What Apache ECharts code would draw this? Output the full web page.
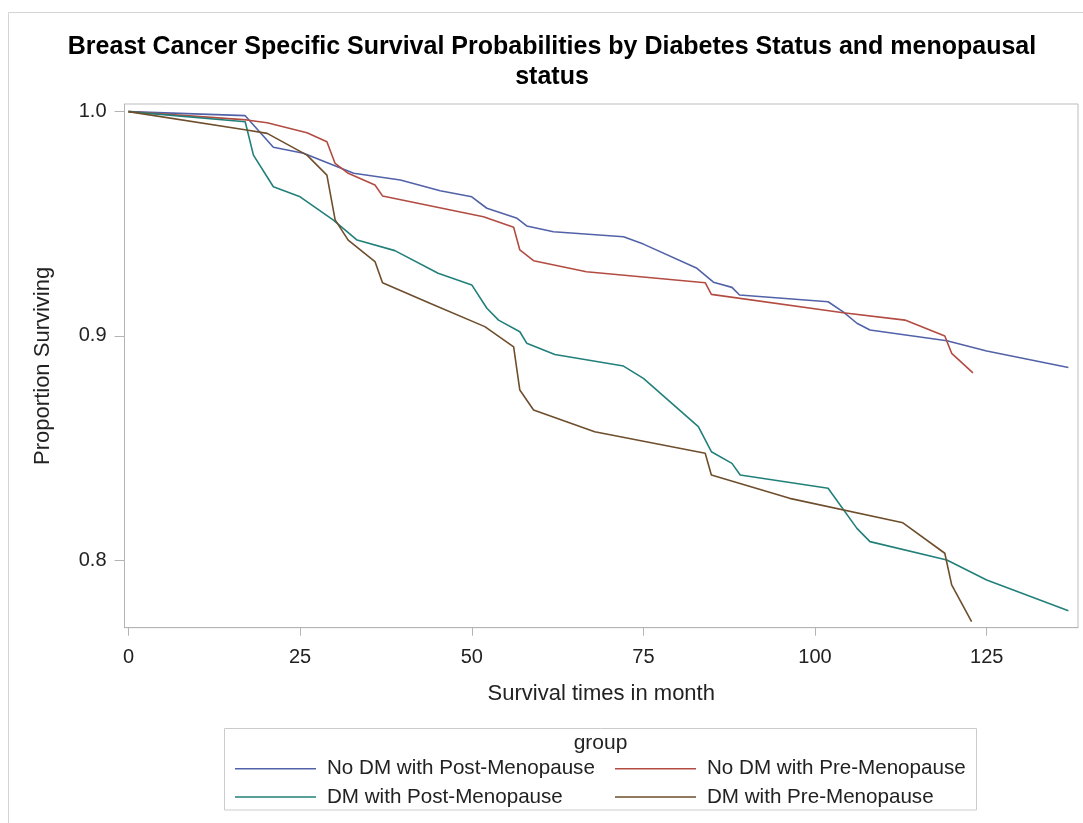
<!DOCTYPE html>
<html>
<head>
<meta charset="utf-8">
<script src="https://cdn.jsdelivr.net/npm/echarts@6/dist/echarts.min.js"></script>
<style>
html,body{margin:0;padding:0;background:#fff;}
#chart{width:1083px;height:823px;}
</style>
</head>
<body>
<div id="chart"></div>
<script>
// ---- data ----
const seriesNames = ['No DM with Post-Menopause','No DM with Pre-Menopause','DM with Post-Menopause','DM with Pre-Menopause'];
const xTicks = [0, 25, 50, 75, 100, 125];
const yTicks = [0.8, 0.9, 1.0];

const timeNoDMPost = [0, 17.0, 21.1, 25.5, 32.8, 39.6, 45.4, 50.0, 52.2, 56.6, 58.0, 61.9, 72.1, 75.0, 82.8, 85.2, 87.9, 89.0, 101.9, 104.1, 106.1, 108.0, 119.2, 125.0, 136.9];
const survNoDMPost = [1.0, 0.9982, 0.9841, 0.9814, 0.9725, 0.9695, 0.9647, 0.9620, 0.9569, 0.9524, 0.9490, 0.9464, 0.9442, 0.9409, 0.9301, 0.9239, 0.9216, 0.9182, 0.9152, 0.9107, 0.9056, 0.9026, 0.8978, 0.8932, 0.8859];

const timeNoDMPre = [0, 17.2, 20.2, 26.0, 28.9, 30.1, 32.0, 35.9, 37.0, 51.7, 56.1, 57.0, 59.0, 66.7, 84.0, 84.9, 104.1, 113.1, 118.9, 119.9, 123.0];
const survNoDMPre = [1.0, 0.9963, 0.9950, 0.9906, 0.9866, 0.9769, 0.9725, 0.9673, 0.9624, 0.9531, 0.9484, 0.9383, 0.9335, 0.9286, 0.9237, 0.9185, 0.9103, 0.9070, 0.8999, 0.8922, 0.8835];

const timeDMPost = [0, 17.0, 18.2, 21.1, 25.0, 29.8, 33.3, 38.8, 45.1, 50.0, 52.2, 53.9, 57.0, 58.0, 62.1, 72.1, 75.0, 83.0, 84.9, 87.9, 89.1, 101.9, 106.1, 108.0, 119.2, 125.0, 136.9];
const survDMPost = [1.0, 0.9955, 0.9806, 0.9665, 0.9620, 0.9517, 0.9427, 0.9380, 0.9279, 0.9227, 0.9123, 0.9070, 0.9018, 0.8967, 0.8917, 0.8865, 0.8810, 0.8595, 0.8483, 0.8431, 0.8379, 0.8320, 0.8141, 0.8082, 0.8000, 0.7911, 0.7774];

const timeDMPre = [0, 17.2, 20.2, 26.0, 28.9, 30.1, 32.0, 35.9, 37.0, 43.9, 51.9, 56.1, 57.0, 59.0, 67.9, 84.0, 84.9, 96.3, 112.8, 118.9, 119.9, 122.8];
const survDMPre = [1.0, 0.9918, 0.9903, 0.9806, 0.9717, 0.9517, 0.9427, 0.9331, 0.9237, 0.9145, 0.9041, 0.8951, 0.8758, 0.8669, 0.8572, 0.8476, 0.8379, 0.8275, 0.8166, 0.8030, 0.7889, 0.7725];

const colors = ['#5262A8', '#B24C42', '#22807A', '#6E4E2C'];

function pairs(t, s){ return t.map((v,i)=>[v, s[i]]); }
const allTimes = [timeNoDMPost, timeNoDMPre, timeDMPost, timeDMPre];
const allSurv = [survNoDMPost, survNoDMPre, survDMPost, survDMPre];

const FONT = 'Liberation Sans, Arial, sans-serif';
const chart = echarts.init(document.getElementById('chart'), null, {renderer:'canvas'});

const legendCommon = {
  orient: 'vertical', top: 758.3, itemWidth: 81, itemHeight: 1.6, itemGap: 7.2, padding: 0,
  icon: 'rect',
  textStyle: {fontFamily: FONT, fontSize: 20.6, lineHeight: 20.5, color: '#222', padding: [0,0,0,6]}
};

const option = {
  animation: false,
  backgroundColor: '#fff',
  color: colors,
  title: {
    text: 'Breast Cancer Specific Survival Probabilities by Diabetes Status and menopausal\nstatus',
    left: 552,
    top: 31.5,
    padding: 0,
    textAlign: 'center',
    textStyle: {fontFamily: FONT, fontSize: 25, fontWeight: 'bold', color: '#000', lineHeight: 30.5}
  },
  grid: {left: 124.5, right: 5, top: 104, bottom: 195.3, show: true, borderColor: '#BDBDBD', borderWidth: 1},
  xAxis: {
    type: 'value', min: -0.58, max: 138.3,
    name: 'Survival times in month', nameLocation: 'middle', nameGap: 55,
    nameTextStyle: {fontFamily: FONT, fontSize: 22, color: '#222'},
    axisLine: {show: true, onZero: false, lineStyle: {color: '#B4B4B4', width: 1}},
    axisTick: {show: true, length: 8, lineStyle: {color: '#B4B4B4'}, customValues: xTicks},
    axisLabel: {customValues: xTicks, margin: 20, fontFamily: FONT, fontSize: 20, color: '#222'},
    splitLine: {show: false}
  },
  yAxis: {
    type: 'value', min: 0.7698, max: 1.0034,
    name: 'Proportion Surviving', nameLocation: 'middle', nameGap: 71, nameRotate: 90,
    nameTextStyle: {fontFamily: FONT, fontSize: 22, color: '#222'},
    axisLine: {show: true, onZero: false, lineStyle: {color: '#B4B4B4', width: 1}},
    axisTick: {show: true, length: 10, lineStyle: {color: '#B4B4B4'}, customValues: yTicks},
    axisLabel: {customValues: yTicks, margin: 18, fontFamily: FONT, fontSize: 20, color: '#222',
      formatter: v => v.toFixed(1)},
    splitLine: {show: false}
  },
  legend: [
    Object.assign({left: 235, data: [seriesNames[0], seriesNames[2]]}, legendCommon),
    Object.assign({left: 615, data: [seriesNames[1], seriesNames[3]]}, legendCommon)
  ],
  graphic: [
    {type: 'rect', z: -10, silent: true, shape: {x: 8.5, y: 12.5, width: 1200, height: 1000},
     style: {fill: 'none', stroke: '#D4D4D4', lineWidth: 1}},
    {type: 'rect', z: -5, silent: true, shape: {x: 224.5, y: 728.5, width: 752, height: 81.5},
     style: {fill: 'none', stroke: '#CCCCCC', lineWidth: 1}},
    {type: 'text', silent: true, style: {text: 'group', x: 600.5, y: 743, align: 'center', verticalAlign: 'middle',
     font: '21px ' + FONT, fill: '#222'}}
  ],
  series: seriesNames.map((n, i) => ({
    name: n, type: 'line', symbol: 'none', showSymbol: false,
    lineStyle: {width: 1.6, color: colors[i]},
    itemStyle: {color: colors[i]},
    data: pairs(allTimes[i], allSurv[i])
  }))
};
chart.setOption(option);
</script>
</body>
</html>
